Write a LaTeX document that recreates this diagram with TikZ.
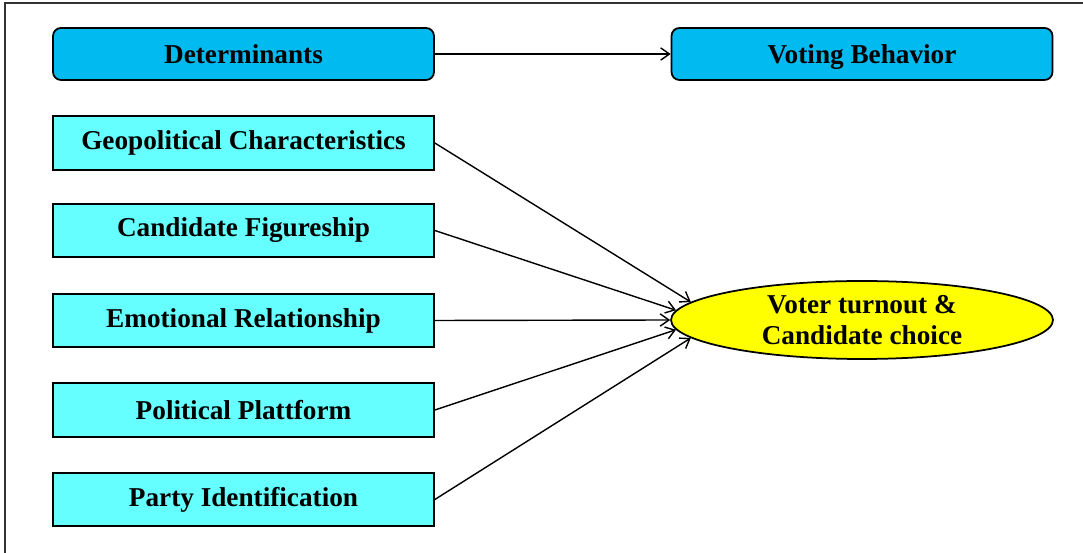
\documentclass[tikz,border=0pt]{standalone}
\usepackage{fontspec}
\setmainfont{Liberation Serif}
\usetikzlibrary{shapes.geometric, arrows.meta}

\definecolor{headblue}{RGB}{0,186,240}
\definecolor{factorcyan}{RGB}{102,255,255}
\definecolor{resultyellow}{RGB}{255,255,0}

\tikzset{
	headbox/.style = {draw, line width=1pt, rounded corners=4.5pt, fill=headblue, minimum width=7.62cm, minimum height=1.04cm, text height=10.5pt, text depth=0pt},
	factorbox/.style = {draw, line width=1pt, fill=factorcyan, minimum width=7.62cm, minimum height=1.07cm},
	resultnode/.style = {draw, line width=1pt, ellipse, fill=resultyellow, minimum width=7.64cm, minimum height=1.56cm, inner sep=0pt, align=center},
	link/.style = {-{Straight Barb[length=5pt, width=7pt]}, thick}
}

\begin{document}
\begin{tikzpicture}[x=0.02cm, y=-0.02cm, font=\fontsize{15.5}{17.5}\selectfont\bfseries]
	\useasboundingbox (0,0) rectangle (1083,553);
	\draw [line width=1pt, black!80] (5,553) -- (5,3) -- (1083,3);
	\node [headbox] (det) at (243.5,54) {Determinants};
	\node [headbox] (vb) at (862,54) {Voting Behavior};
	\node [factorbox] (geo) at (243.5,143) {Geopolitical Characteristics};
	\node [factorbox] (cand) at (243.5,230.5) {Candidate Figureship};
	\node [factorbox] (emo) at (243.5,320.5) {Emotional Relationship};
	\node [factorbox] (pol) at (243.5,410) {Political Plattform};
	\node [factorbox] (party) at (243.5,499.5) {Party Identification};
	\node [resultnode] (vt) at (862,320) {\raisebox{-2pt}{Voter turnout \&}\\\raisebox{-2pt}{Candidate choice}};
	\draw [link] (det) -- (vb);
	\draw [link] (geo.east) -- (vt.174);
	\draw [link] (cand.east) -- (vt.177);
	\draw [link] (emo.east) -- (vt.west);
	\draw [link] (pol.east) -- (vt.183);
	\draw [link] (party.east) -- (vt.186);
\end{tikzpicture}
\end{document}
